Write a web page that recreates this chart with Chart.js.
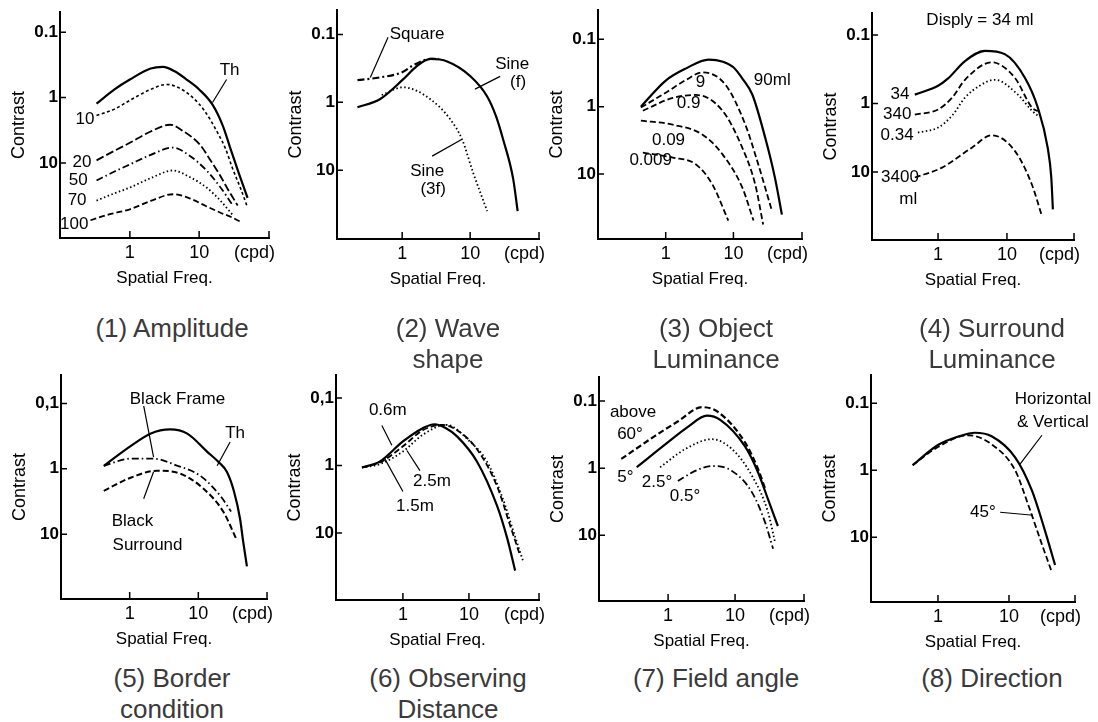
<!DOCTYPE html>
<html>
<head>
<meta charset="utf-8">
<script src="https://cdn.jsdelivr.net/npm/chart.js@4.4.1/dist/chart.umd.min.js"></script>
<style>
  body { margin: 0; background: #fff; width: 1098px; height: 722px; position: relative; overflow: hidden; font-family: "Liberation Sans", Arial, sans-serif; }
  .panel { position: absolute; }
  .cap { position: absolute; width: 270px; text-align: center; font-size: 26px; line-height: 31px; color: #3a3a3a; }
</style>
</head>
<body>
<div class="panel" id="w1"><canvas id="c1"></canvas></div>
<div class="panel" id="w2"><canvas id="c2"></canvas></div>
<div class="panel" id="w3"><canvas id="c3"></canvas></div>
<div class="panel" id="w4"><canvas id="c4"></canvas></div>
<div class="panel" id="w5"><canvas id="c5"></canvas></div>
<div class="panel" id="w6"><canvas id="c6"></canvas></div>
<div class="panel" id="w7"><canvas id="c7"></canvas></div>
<div class="panel" id="w8"><canvas id="c8"></canvas></div>

<div class="cap" style="left:37px;top:313px">(1) Amplitude</div>
<div class="cap" style="left:313px;top:313px">(2) Wave<br>shape</div>
<div class="cap" style="left:581px;top:313px">(3) Object<br>Luminance</div>
<div class="cap" style="left:857px;top:313px">(4) Surround<br>Luminance</div>
<div class="cap" style="left:37px;top:663px">(5) Border<br>condition</div>
<div class="cap" style="left:313px;top:663px">(6) Observing<br>Distance</div>
<div class="cap" style="left:581px;top:663px">(7) Field angle</div>
<div class="cap" style="left:857px;top:663px">(8) Direction</div>

<script>
// tick values / labels shared by all panels
const yTickValues = [0.1, 1, 10];
const yTickLabels = ['0.1', '1', '10'];
const yTickLabelsComma = ['0,1', '1', '10'];
const xTickValues = [1, 10];
const xTickLabels = ['1', '10'];

// [spatial freq (cpd), contrast]

// (1) Amplitude
const ampTh  = [[0.33,1.24],[0.6,0.75],[1,0.53],[2,0.36],[3,0.34],[4.5,0.4],[6.6,0.53],[10,0.75],[15.6,1.28],[22,2.7],[28,5.8],[38,15],[50,34]];
const amp10  = [[0.33,1.88],[0.6,1.5],[1,1.1],[2,0.75],[3.4,0.63],[5,0.7],[8.1,1.0],[12,1.6],[17.8,3.2],[24,6],[30,11.7],[40,25],[50,48]];
const amp20  = [[0.33,9.1],[0.6,6.5],[1,4.9],[2,3.3],[3.8,2.6],[6,3.3],[10.2,5.2],[14,8.5],[19.7,15],[27,27],[36,44.5]];
const amp50  = [[0.33,18.5],[0.6,13.5],[1,10.5],[2,7.5],[4.2,5.8],[7,7.5],[12.8,13],[20,23],[30,43]];
const amp70  = [[0.33,37.5],[0.6,29],[1,23.7],[2,17],[4.2,13],[7,16],[12.8,23.7],[20,37],[30,61]];
const amp100 = [[0.27,75],[0.5,61],[1,51],[2,38],[4.2,30],[7,34],[12,44.5],[20,57],[30,68],[41,81]];

// (2) Wave shape
const waveSineF  = [[0.22,1.18],[0.47,0.9],[1.03,0.46],[1.6,0.3],[2.6,0.23],[4.6,0.25],[10,0.41],[17.8,0.82],[24,1.6],[30.5,3.5],[43,13.5],[50,40]];
const waveSquare = [[0.22,0.47],[0.47,0.43],[1.0,0.36],[1.5,0.28],[2.6,0.23],[3.5,0.23]];
const waveSine3f = [[0.5,0.78],[1.03,0.6],[2.6,0.9],[5.1,1.78],[7.6,3.5],[11,10.7],[17.8,40]];

// (3) Object luminance
const obj90   = [[0.43,1.0],[1,0.41],[2,0.27],[4.3,0.2],[7,0.215],[10,0.26],[14,0.4],[19,0.66],[29.5,2.9],[41,11.3],[52,40]];
const obj9    = [[0.43,1.03],[1,0.62],[2,0.4],[3.5,0.31],[7.6,0.47],[15,1.85],[23.3,7.2],[37,35]];
const obj09   = [[0.46,1.15],[1.27,0.74],[2.8,0.67],[6.9,1.15],[13.5,4.05],[21,14.3],[27.5,56]];
const obj009  = [[0.43,1.61],[1.27,1.85],[3.5,2.6],[6.9,5.1],[13.5,15.8],[19.8,49]];
const obj0009 = [[0.46,4.8],[1.27,5.7],[2.8,7.2],[4.9,14.3],[8.4,49]];

// (4) Surround luminance
const sur34   = [[0.46,0.74],[1,0.55],[1.4,0.43],[2.46,0.24],[4.8,0.17],[9.3,0.19],[18.2,0.42],[28,1.14],[39,4.4],[44,12],[46.4,35]];
const sur340  = [[0.46,1.45],[1,1.22],[1.6,0.82],[2.46,0.45],[6,0.25],[13,0.42],[23,1.14],[28,1.3]];
const sur034  = [[0.51,2.65],[1,2.24],[1.6,1.5],[2.46,0.82],[4,0.55],[6.7,0.45],[14.4,0.74],[23,1.27],[28,1.5]];
const sur3400 = [[0.46,12],[1.14,8.6],[3.1,4.4],[6,2.9],[13,4.9],[23,15.2],[32,43]];

// (5) Border condition
const bordTh    = [[0.42,0.9],[1.03,0.45],[2,0.29],[3.9,0.25],[6.9,0.29],[13.5,0.55],[20,0.8],[26,1.11],[33,2.2],[40.5,5.8],[45,13],[51,31]];
const bordFrame = [[0.42,0.9],[1.03,0.7],[2.2,0.7],[5,0.9],[10.7,1.28],[21,2.6],[30,4.5]];
const bordSurr  = [[0.42,2.17],[1.03,1.37],[2.5,1.07],[5.5,1.19],[11.8,2.0],[23,4.5],[36.6,12.5]];

// (6) Observing distance
const dist06 = [[0.24,1.07],[0.45,0.87],[1,0.44],[2,0.28],[3,0.245],[4.5,0.28],[6.6,0.37],[13.2,0.87],[26.5,3.9],[38,12],[50,36]];
const dist25 = [[0.24,1.07],[0.45,0.9],[1,0.52],[2,0.3],[4,0.25],[6.6,0.3],[13,0.56],[26.5,2.0],[42,7.7],[59,21]];
const dist15 = [[0.24,1.07],[0.45,0.95],[1,0.62],[2,0.35],[4.6,0.25],[10.3,0.44],[18.7,0.87],[32.6,3.1],[48,10],[66,26]];

// (7) Field angle
const fld60 = [[0.2,0.73],[0.64,0.33],[1.41,0.2],[3.2,0.123],[5.6,0.146],[14,0.41],[22,1.03],[28,2]];
const fld5  = [[0.34,0.97],[1,0.41],[2,0.24],[3.8,0.165],[6,0.19],[14,0.47],[22,1.15],[31,2.9],[43.6,7.3]];
const fld25 = [[0.76,0.97],[1.8,0.52],[4.5,0.37],[9,0.52],[17.9,1.3],[31,4.5],[39.5,12.7]];
const fld05 = [[1.4,1.56],[2.5,1.11],[4.5,0.93],[9,1.1],[17.9,2.3],[28,6.4],[37,16]];

// (8) Direction
const dirHV = [[0.44,0.84],[1,0.42],[2,0.31],[3.3,0.275],[5.7,0.31],[12.2,0.64],[21,2.0],[32,7.9],[44.5,26]];
const dir45 = [[0.44,0.84],[1,0.45],[2.65,0.3],[5.7,0.41],[12.2,1.0],[18.5,3.2],[29,12.7],[40,33]];

// line styles
const SOLID   = {w: 2.2, dash: []};
const DASH    = {w: 1.8, dash: [6, 3]};
const LDASH   = {w: 1.8, dash: [8, 3]};
const FDASH   = {w: 1.6, dash: [3, 2.5]};
const DOT     = {w: 1.8, dash: [1.5, 2.5]};
const DASHDOT = {w: 1.8, dash: [7, 3, 1.5, 3]};

const FONT = '"Liberation Sans", Arial, sans-serif';

// draws inward tick marks, leader lines, curve labels and the (cpd) unit
const notesPlugin = {
  id: 'notes',
  afterDatasetsDraw(chart, args, opts) {
    const {ctx, chartArea: a, scales: {x, y}} = chart;
    ctx.save();
    ctx.strokeStyle = '#000';
    ctx.fillStyle = '#000';
    ctx.setLineDash([]);
    ctx.lineWidth = 1.5;
    ctx.beginPath();
    yTickValues.forEach(v => {
      const py = y.getPixelForValue(v);
      ctx.moveTo(a.left, py); ctx.lineTo(a.left + 6, py);
    });
    xTickValues.forEach(v => {
      const px = x.getPixelForValue(v);
      ctx.moveTo(px, a.bottom); ctx.lineTo(px, a.bottom - 7);
    });
    ctx.moveTo(a.right, a.bottom); ctx.lineTo(a.right, a.bottom - 7);
    ctx.stroke();

    ctx.lineWidth = 1.2;
    ctx.beginPath();
    (opts.leaders || []).forEach(([p, q]) => {
      ctx.moveTo(x.getPixelForValue(p[0]), y.getPixelForValue(p[1]));
      ctx.lineTo(x.getPixelForValue(q[0]), y.getPixelForValue(q[1]));
    });
    ctx.stroke();

    ctx.font = '17px ' + FONT;
    ctx.textAlign = 'center';
    ctx.textBaseline = 'middle';
    (opts.texts || []).forEach(t => {
      ctx.fillText(t[0], x.getPixelForValue(t[1]), y.getPixelForValue(t[2]));
    });

    ctx.font = '18px ' + FONT;
    ctx.textAlign = 'right';
    ctx.fillText('(cpd)', a.right + 6, a.bottom + 15);
    ctx.restore();
  }
};

function makePanel(n, p) {
  const wrap = document.getElementById('w' + n);
  const {left, right, top, bottom} = p.area;
  wrap.style.left = (left - 60) + 'px';
  wrap.style.top = (top - 12) + 'px';
  wrap.style.width = (right - left + 80) + 'px';
  wrap.style.height = (bottom - top + 67) + 'px';
  const yLabels = p.comma ? yTickLabelsComma : yTickLabels;

  new Chart(document.getElementById('c' + n), {
    type: 'line',
    data: {
      datasets: p.series.map(([pts, st]) => ({
        data: pts.map(([x, y]) => ({x, y})),
        borderColor: '#000',
        borderWidth: st.w,
        borderDash: st.dash,
        pointRadius: 0,
        cubicInterpolationMode: 'monotone',
        fill: false
      }))
    },
    plugins: [notesPlugin],
    options: {
      responsive: true,
      maintainAspectRatio: false,
      animation: false,
      layout: {padding: {left: 0, top: 12, right: 20, bottom: 0}},
      plugins: {
        legend: {display: false},
        tooltip: {enabled: false},
        notes: {texts: p.texts, leaders: p.leaders}
      },
      scales: {
        x: {
          type: 'logarithmic',
          min: p.x[0], max: p.x[1],
          grid: {display: false, drawTicks: false},
          border: {display: true, color: '#000', width: 2},
          afterBuildTicks: s => { s.ticks = xTickValues.map(v => ({value: v})); },
          afterFit: s => { s.height = 55; },
          ticks: {
            padding: 4, color: '#000', maxRotation: 0,
            font: {family: FONT, size: 18},
            callback: v => xTickLabels[xTickValues.indexOf(v)]
          },
          title: {display: true, text: 'Spatial Freq.', color: '#000',
                  font: {family: FONT, size: 17}, padding: {top: 0, bottom: 4}}
        },
        y: {
          type: 'logarithmic',
          reverse: true,
          min: p.y[0], max: p.y[1],
          grid: {display: false, drawTicks: false},
          border: {display: true, color: '#000', width: 2},
          afterBuildTicks: s => { s.ticks = yTickValues.map(v => ({value: v})); },
          afterFit: s => { s.width = 60; },
          ticks: {
            padding: 2, color: '#000',
            font: {family: FONT, size: 17, weight: 'bold'},
            callback: v => yLabels[yTickValues.indexOf(v)]
          },
          title: {display: true, text: 'Contrast', color: '#000',
                  font: {family: FONT, size: 18}, padding: {top: 8, bottom: 0}}
        }
      }
    }
  });
}

makePanel(1, {
  area: {left: 60, right: 269, top: 12, bottom: 238}, x: [0.098, 102], y: [0.0495, 140],
  series: [[ampTh, SOLID], [amp10, FDASH], [amp20, LDASH], [amp50, DASHDOT], [amp70, DOT], [amp100, DASH]],
  texts: [['Th', 27.5, 0.387], ['10', 0.225, 2.17], ['20', 0.203, 9.8], ['50', 0.18, 18.5], ['70', 0.173, 37], ['100', 0.157, 87]],
  leaders: [[[24.9, 0.53], [15.6, 1.19]]]
});
makePanel(2, {
  area: {left: 337, right: 539, top: 10, bottom: 239}, x: [0.11, 103], y: [0.044, 103],
  series: [[waveSineF, SOLID], [waveSquare, {w: 2.2, dash: [7, 3, 2, 3]}], [waveSine3f, DOT]],
  texts: [['Square', 1.66, 0.1], ['Sine', 41.5, 0.276], ['(f)', 50.6, 0.51], ['Sine', 2.33, 10.3], ['(3f)', 2.86, 19]],
  leaders: [[[0.62, 0.11], [0.34, 0.43]], [[27.6, 0.415], [11.8, 0.64]], [[2.76, 6.2], [7.6, 3.5]]]
});
makePanel(3, {
  area: {left: 598, right: 802, top: 10, bottom: 239}, x: [0.10, 103], y: [0.037, 92],
  series: [[obj90, SOLID], [obj9, DASH], [obj09, DASH], [obj009, DASH], [obj0009, DASH]],
  texts: [['90ml', 37.5, 0.4], ['9', 3.27, 0.43], ['0.9', 2.18, 0.9], ['0.09', 1.1, 3.2], ['0.009', 0.6, 6.3]],
  leaders: []
});
makePanel(4, {
  area: {left: 872, right: 1074, top: 13, bottom: 240}, x: [0.11, 94], y: [0.048, 98],
  series: [[sur34, SOLID], [sur340, DASH], [sur034, DOT], [sur3400, DASH]],
  texts: [['Disply = 34 ml', 4.06, 0.061], ['34', 0.28, 0.74], ['340', 0.255, 1.45], ['0.34', 0.255, 2.93], ['3400', 0.28, 12], ['ml', 0.37, 25]],
  leaders: []
});
makePanel(5, {
  area: {left: 61, right: 267, top: 375, bottom: 599}, x: [0.10, 100], y: [0.037, 98], comma: true,
  series: [[bordTh, SOLID], [bordFrame, DASHDOT], [bordSurr, {w: 2, dash: [6, 3]}]],
  texts: [['Black Frame', 4.97, 0.085], ['Th', 34.3, 0.29], ['Black', 1.1, 6.45], ['Surround', 1.82, 15]],
  leaders: [[[1.6, 0.109], [2.23, 0.66]], [[29, 0.39], [18.8, 0.9]], [[1.6, 2.87], [2.23, 1.11]]]
});
makePanel(6, {
  area: {left: 336, right: 539, top: 375, bottom: 600}, x: [0.097, 115], y: [0.046, 98], comma: true,
  series: [[dist06, SOLID], [dist25, DASH], [dist15, DOT]],
  texts: [['0.6m', 0.59, 0.153], ['2.5m', 2.75, 1.73], ['1.5m', 1.52, 4.05]],
  leaders: [[[0.48, 0.255], [0.68, 0.5]], [[1.81, 1.19], [1.15, 0.6]], [[1.0, 2.43], [0.53, 0.79]]]
});
makePanel(7, {
  area: {left: 599, right: 804, top: 377, bottom: 601}, x: [0.093, 107], y: [0.044, 96],
  series: [[fld60, {w: 2.2, dash: [6, 3]}], [fld5, SOLID], [fld25, DOT], [fld05, DASHDOT]],
  texts: [['above', 0.3, 0.146], ['60°', 0.27, 0.31], ['5°', 0.23, 1.36], ['2.5°', 0.685, 1.62], ['0.5°', 1.79, 2.62]],
  leaders: []
});
makePanel(8, {
  area: {left: 871, right: 1075, top: 375, bottom: 602}, x: [0.114, 85], y: [0.038, 93],
  series: [[dirHV, SOLID], [dir45, DASH]],
  texts: [['Horizontal', 41.6, 0.087], ['& Vertical', 41.6, 0.19], ['45°', 4.3, 4.24]],
  leaders: [[[29.1, 0.3], [14.3, 0.81]], [[7.5, 4.24], [21.8, 4.7]]]
});
</script>
</body>
</html>
